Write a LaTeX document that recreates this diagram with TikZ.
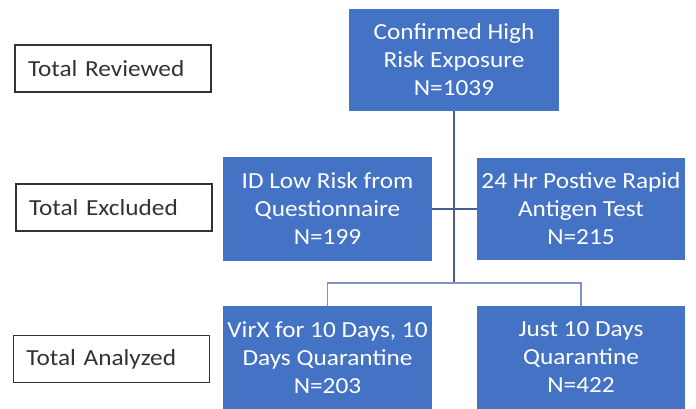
\documentclass[tikz,border=0pt]{standalone}
\usepackage{fontspec}
\setmainfont{Carlito}[FakeStretch=1.1]
\definecolor{boxblue}{HTML}{4472C4}
\definecolor{linecol}{HTML}{4A5F8E}
\definecolor{linelight}{HTML}{7F93BE}
\definecolor{labgray}{HTML}{333333}
\begin{document}
\begin{tikzpicture}[x=1pt,y=-1pt,
  bluebox/.style={fill=boxblue, draw=none, text=white, align=center,
    font=\fontsize{23}{28}\selectfont, inner sep=0pt},
  labelbox/.style={draw=labgray, line width=1.2pt, text=labgray, align=left,
    font=\fontsize{23}{28}\selectfont, text width=170pt, inner xsep=13pt,
    inner ysep=0pt, minimum height=47pt},
  trunk/.style={draw=linecol, line width=2pt},
  branch/.style={draw=linecol, line width=1.4pt},
  lightbranch/.style={draw=linelight, line width=1.6pt}]
\useasboundingbox (0,0) rectangle (696,409);
\fill[white] (0,0) rectangle (696,409);

\node[bluebox, minimum width=210pt, minimum height=102pt] (top) at (454,60)
  {Confirmed High\\Risk Exposure\\N=1039};
\node[bluebox, minimum width=209pt, minimum height=104pt] (midL) at (327.5,209)
  {ID Low Risk from\\Questionnaire\\N=199};
\node[bluebox, minimum width=208pt, minimum height=102pt] (midR) at (581,209)
  {24 Hr Postive Rapid\\Antigen Test\\N=215};
\node[bluebox, minimum width=209pt, minimum height=103pt] (botL) at (327.5,357.5)
  {VirX for 10 Days, 10\\Days Quarantine\\N=203};
\node[bluebox, minimum width=208pt, minimum height=103pt] (botR) at (581,357.5)
  {Just 10 Days\\Quarantine\\N=422};

\node[labelbox] (rev) at (113,68.5) {Total Reviewed};
\node[labelbox] (exc) at (114,207.5) {Total Excluded};
\node[labelbox] (ana) at (111.5,359) {Total Analyzed};

\coordinate (split) at (454,283);
\draw[trunk] (top.south) -- (split);
\draw[branch] (midL.east) -- (midR.west);
\draw[lightbranch] (split) -| (botL.north);
\draw[lightbranch] (split) -| (botR.north);
\end{tikzpicture}
\end{document}
